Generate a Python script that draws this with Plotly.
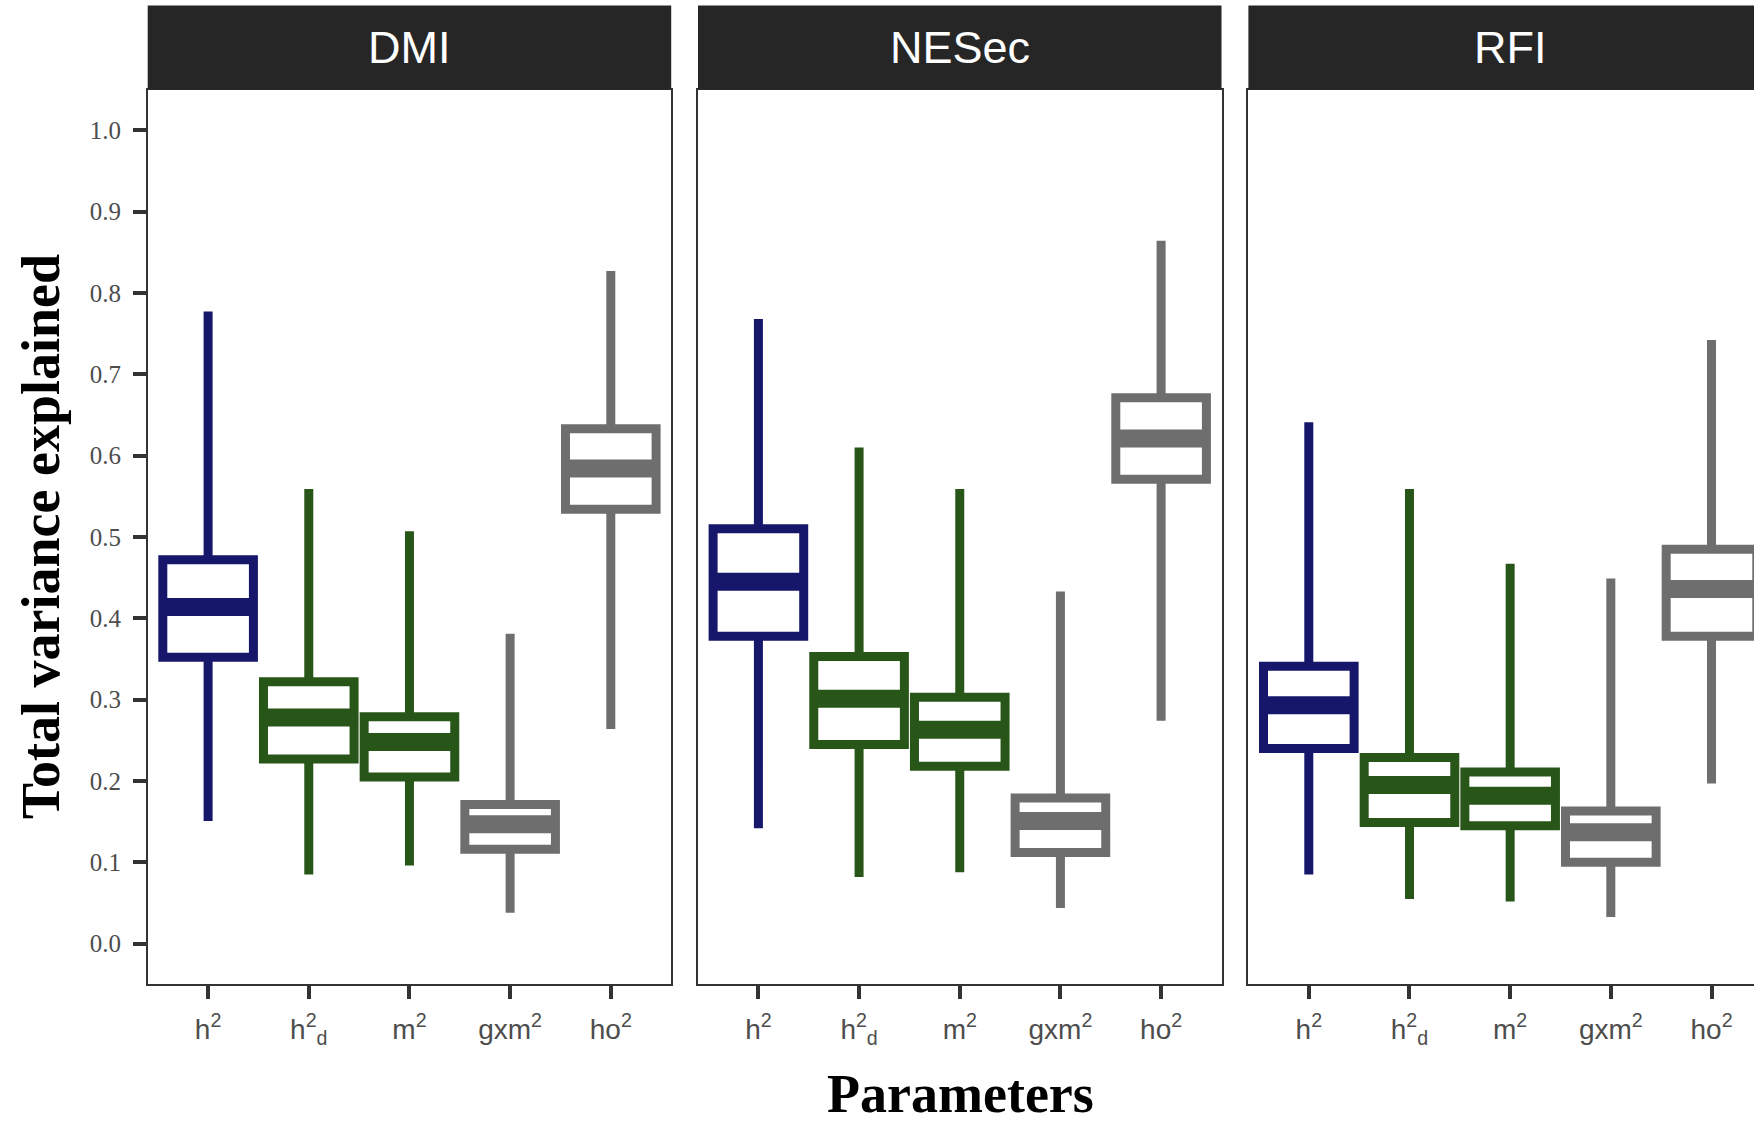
import plotly.graph_objects as go

# ---------------- data ----------------
panels = ["DMI", "NESec", "RFI"]
categories = ["h<sup>2</sup>", "h<sup>2</sup><sub>d</sub>", "m<sup>2</sup>", "gxm<sup>2</sup>", "ho<sup>2</sup>"]
y_ticks = [0.0, 0.1, 0.2, 0.3, 0.4, 0.5, 0.6, 0.7, 0.8, 0.9, 1.0]

dmi_low    = [0.151, 0.085, 0.096, 0.038, 0.264]
dmi_q1     = [0.352, 0.227, 0.205, 0.116, 0.534]
dmi_med    = [0.414, 0.278, 0.248, 0.147, 0.584]
dmi_q3     = [0.472, 0.322, 0.279, 0.171, 0.633]
dmi_high   = [0.777, 0.559, 0.507, 0.381, 0.827]

nesec_low  = [0.142, 0.082, 0.088, 0.044, 0.274]
nesec_q1   = [0.378, 0.245, 0.218, 0.112, 0.571]
nesec_med  = [0.445, 0.301, 0.263, 0.151, 0.621]
nesec_q3   = [0.510, 0.353, 0.303, 0.179, 0.671]
nesec_high = [0.768, 0.610, 0.559, 0.433, 0.864]

rfi_low    = [0.085, 0.055, 0.052, 0.033, 0.197]
rfi_q1     = [0.240, 0.149, 0.145, 0.100, 0.378]
rfi_med    = [0.293, 0.195, 0.182, 0.137, 0.436]
rfi_q3     = [0.341, 0.229, 0.211, 0.163, 0.485]
rfi_high   = [0.641, 0.559, 0.467, 0.449, 0.742]

colors = ["#16166B", "#285518", "#285518", "#6E6E6E", "#6E6E6E"]

panel_data = [
    (dmi_low, dmi_q1, dmi_med, dmi_q3, dmi_high),
    (nesec_low, nesec_q1, nesec_med, nesec_q3, nesec_high),
    (rfi_low, rfi_q1, rfi_med, rfi_q3, rfi_high),
]

# ---------------- layout geometry ----------------
W, H = 1754, 1122
px_left = [147.7, 698.0, 1248.4]
panel_w = 523.5
plot_top, plot_bot = 89.5, 984.4
strip_top = 5.6
units_per_px = 5.2 / panel_w

BOX_W = 0.9
LW = 9
MED_LW = 18

fig = go.Figure()

for p, (low, q1, med, q3, high) in enumerate(panel_data):
    ax = "" if p == 0 else str(p + 1)
    for i in range(len(categories)):
        fig.add_trace(go.Box(
            x=[i], lowerfence=[low[i]], q1=[q1[i]], median=[med[i]], q3=[q3[i]],
            upperfence=[high[i]], width=BOX_W, whiskerwidth=0,
            line=dict(color=colors[i], width=LW), fillcolor="white",
            xaxis="x" + ax, yaxis="y" + ax, showlegend=False, hoverinfo="skip",
        ))
        fig.add_trace(go.Scatter(
            x=[i - BOX_W / 2, i + BOX_W / 2], y=[med[i], med[i]], mode="lines",
            line=dict(color=colors[i], width=MED_LW),
            xaxis="x" + ax, yaxis="y" + ax, showlegend=False, hoverinfo="skip",
        ))

layout = dict(
    width=W, height=H, margin=dict(l=0, r=0, t=0, b=0),
    paper_bgcolor="white", plot_bgcolor="white", showlegend=False,
)

ydom = [1 - plot_bot / H, 1 - plot_top / H]
shapes = []
annotations = []
for p in range(3):
    x0 = px_left[p] / W
    x1 = min((px_left[p] + panel_w) / W, 1.0)
    right_px = min(px_left[p] + panel_w, W)
    rng = [-0.6, -0.6 + (right_px - px_left[p]) * units_per_px]
    key = "" if p == 0 else str(p + 1)
    layout["xaxis" + key] = dict(
        domain=[x0, x1], range=rng, anchor="y" + key,
        tickmode="array", tickvals=list(range(len(categories))), ticktext=categories,
        ticks="outside", ticklen=13, tickwidth=4, tickcolor="#333333",
        showline=True, mirror=True, linecolor="#333333", linewidth=1.5,
        showgrid=False, zeroline=False, ticklabelstandoff=6,
        tickfont=dict(family="Liberation Sans, Arial", size=28, color="#4D4D4D"),
    )
    ydict = dict(
        domain=ydom, range=[-0.05, 1.05], anchor="x" + key,
        showline=True, mirror=(p < 2), linecolor="#333333", linewidth=1.5,
        showgrid=False, zeroline=False,
    )
    if p == 0:
        ydict.update(tickmode="array", tickvals=y_ticks,
                     ticktext=[f"{v:.1f}" for v in y_ticks],
                     ticks="outside", ticklen=13, tickwidth=4, tickcolor="#333333",
                     ticklabelstandoff=7,
                     tickfont=dict(family="Liberation Serif, Times New Roman", size=25, color="#4D4D4D"))
    else:
        ydict.update(showticklabels=False, ticks="", matches="y")
    layout["yaxis" + key] = ydict

    shapes.append(dict(type="rect", xref="paper", yref="paper",
                       x0=x0, x1=x1, y0=1 - plot_top / H, y1=1 - strip_top / H,
                       fillcolor="#262626", line=dict(width=0), layer="above"))
    annotations.append(dict(text=panels[p], xref="paper", yref="paper",
                            x=(px_left[p] + panel_w / 2) / W, y=1 - (plot_top + strip_top) / 2 / H,
                            xanchor="center", yanchor="middle", showarrow=False,
                            font=dict(family="Liberation Sans, Arial", size=45, color="white")))

annotations.append(dict(text="<b>Total variance explained</b>", xref="paper", yref="paper",
                        x=41 / W, y=1 - 537 / H, textangle=-90, showarrow=False,
                        xanchor="center", yanchor="middle",
                        font=dict(family="Liberation Serif, Times New Roman", size=54, color="black")))
annotations.append(dict(text="<b>Parameters</b>", xref="paper", yref="paper",
                        x=960 / W, y=1 - 1094 / H, showarrow=False,
                        xanchor="center", yanchor="middle",
                        font=dict(family="Liberation Serif, Times New Roman", size=54, color="black")))

layout["shapes"] = shapes
layout["annotations"] = annotations
fig.update_layout(**layout)
fig.write_html("out.html", config={"displayModeBar": False},
               post_script="document.body.style.margin='0';document.body.style.overflow='hidden';")
